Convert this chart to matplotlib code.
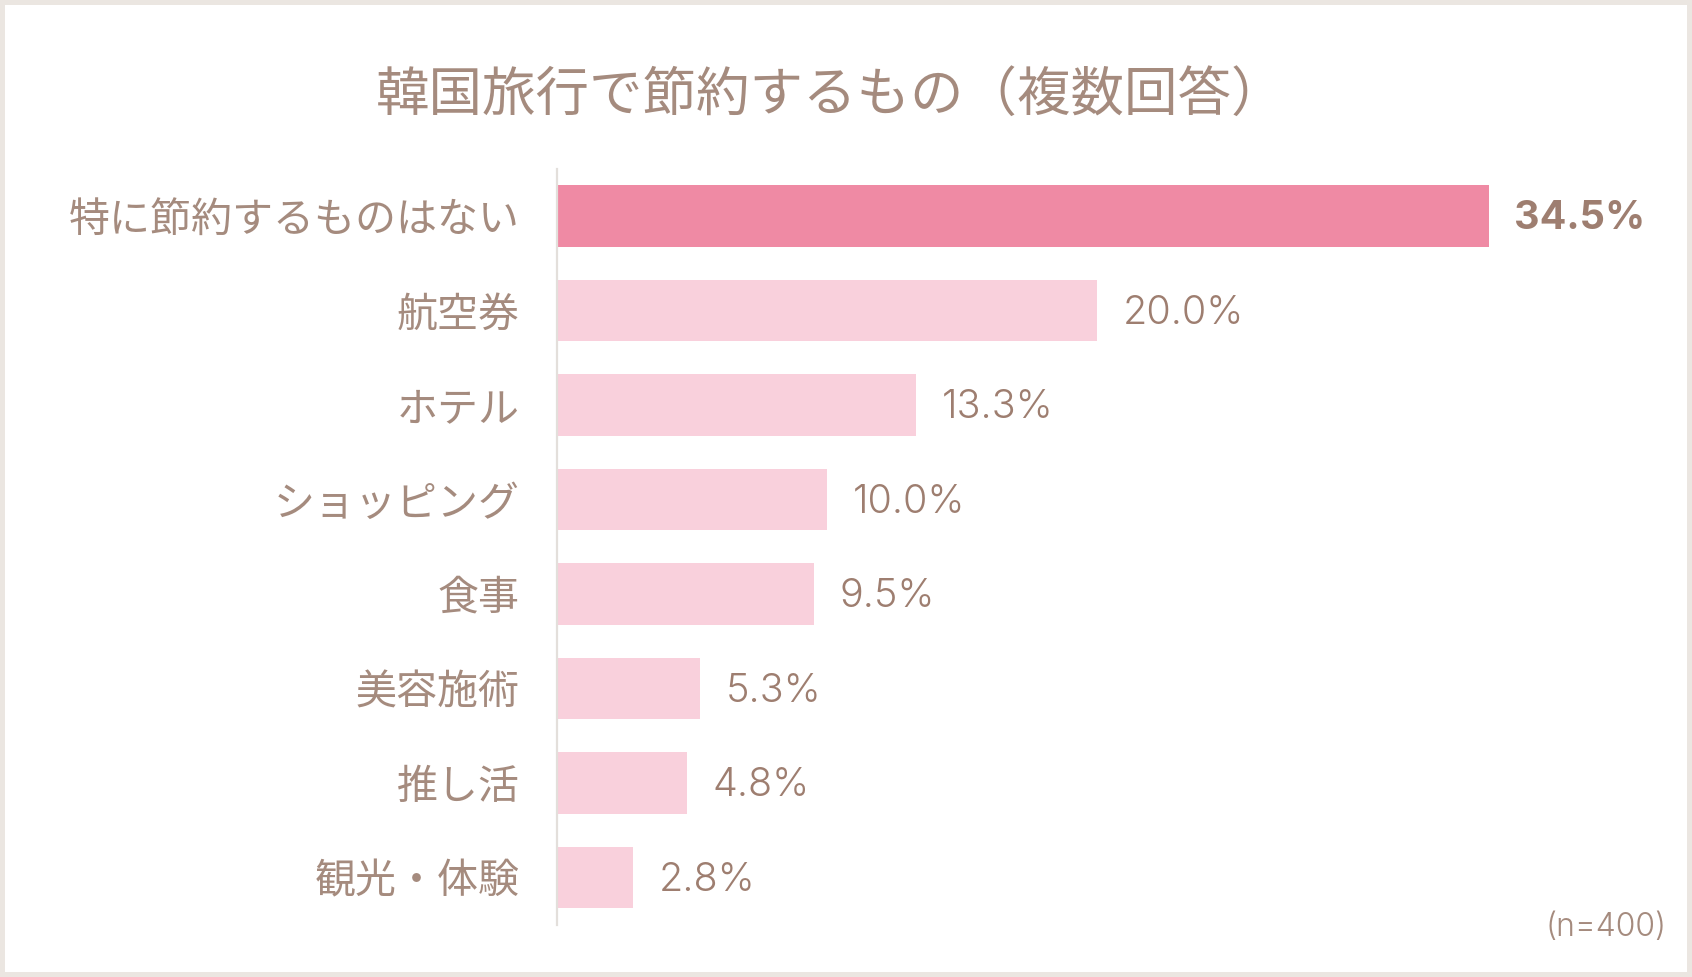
import matplotlib
matplotlib.use('Agg')
import matplotlib.pyplot as plt

plt.rcParams['font.family'] = ['Noto Sans CJK JP', 'DejaVu Sans']

# data
items = ['特に節約するものはない', '航空券', 'ホテル', 'ショッピング',
         '食事', '美容施術', '推し活', '観光・体験']
shares = [34.5, 20.0, 13.3, 10.0, 9.5, 5.3, 4.8, 2.8]
title = '韓国旅行で節約するもの（複数回答）'
note = '(n=400)'

text_col = '#a58b7e'
num_col = '#9e7e70'
top_col = '#ef8aa4'
bar_col = '#f9d0dc'

fig = plt.figure(figsize=(16.92, 9.77), dpi=100)
fig.patch.set_facecolor('white')
fig.patch.set_edgecolor('#ebe6e1')
fig.patch.set_linewidth(6)

W, H = 1692, 977
ax = fig.add_axes([557 / W, (977 - 924.75) / H, 1080 / W, (924.75 - 168.75) / H])

colors = [top_col] + [bar_col] * (len(shares) - 1)
ypos = range(len(items))
ax.barh(ypos, shares, height=0.65, color=colors, zorder=2)
ax.set_ylim(len(items) - 0.5, -0.5)
ax.set_xlim(0, 40)

ax.set_yticks(list(ypos))
ax.set_yticklabels(items, fontsize=29.5, color=text_col)
ax.tick_params(axis='y', length=0, pad=27)
ax.set_xticks([])

for s in ['top', 'right', 'bottom']:
    ax.spines[s].set_visible(False)
ax.spines['left'].set_color('#e3dfdb')
ax.spines['left'].set_linewidth(1.6)

for i, v in enumerate(shares):
    bold = i == 0
    ax.text(v + 0.95, i + 0.03, f'{v:.1f}%', va='center', ha='left',
            fontsize=28.5, family='Inter', color=num_col,
            fontweight='bold' if bold else 300)

fig.text(831 / W, 1 - 95 / H, title, ha='center', va='center',
         fontsize=38.5, color=text_col)
fig.text(1667 / W, 1 - 928 / H, note, ha='right', va='center',
         fontsize=23, family='Inter', fontweight=300, color=text_col)

fig.savefig('out.png', dpi=100, facecolor=fig.get_facecolor(),
            edgecolor=fig.get_edgecolor())
